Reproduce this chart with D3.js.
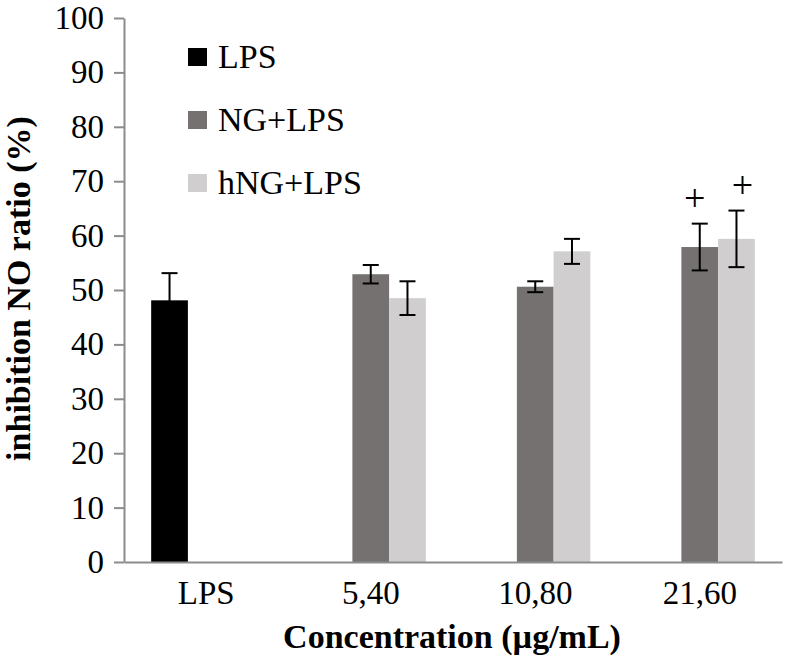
<!DOCTYPE html>
<html>
<head>
<meta charset="utf-8">
<script src="https://cdn.jsdelivr.net/npm/d3@7"></script>
<style>
  html, body { margin: 0; padding: 0; background: #fff; }
  svg { display: block; font-family: "Liberation Serif", "Times New Roman", serif; }
  svg text { font-family: "Liberation Serif", "Times New Roman", serif; }
</style>
</head>
<body>
<svg id="chart" width="786" height="671"></svg>
<script>
// ---- data ----
const categories = ["LPS", "5,40", "10,80", "21,60"];
const seriesNames = ["LPS", "NG+LPS", "hNG+LPS"];
const lpsValues = [48.1, null, null, null];
const lpsErrors = [5.0, null, null, null];
const ngValues = [null, 52.9, 50.6, 57.9];
const ngErrors = [null, 1.7, 1.0, 4.3];
const hngValues = [null, 48.5, 57.1, 59.4];
const hngErrors = [null, 3.1, 2.3, 5.2];
const significanceSeries = ["NG+LPS", "hNG+LPS"];
const significanceCategory = ["21,60", "21,60"];
const significanceMark = ["+", "+"];
const yTicks = [0, 10, 20, 30, 40, 50, 60, 70, 80, 90, 100];
const yTitle = "inhibition NO ratio (%)";
const xTitle = "Concentration (\u00b5g/mL)";

// ---- styles ----
const colors = { "LPS": "#000000", "NG+LPS": "#767171", "hNG+LPS": "#d0cece" };
const axisColor = "#8c8c8c";
const tickFont = 33;
const legendFont = 34;
const titleFont = 34;
const serif = "'Liberation Serif', 'Times New Roman', serif";

const svg = d3.select("#chart");
const plot = { left: 124, right: 782, top: 18, bottom: 562 };

const y = d3.scaleLinear().domain([0, 100]).range([plot.bottom, plot.top]);
const x0 = d3.scaleBand().domain(categories).range([plot.left, plot.right]).paddingInner(0).paddingOuter(0);
const x1 = d3.scaleBand().domain(seriesNames).range([0, x0.bandwidth()]).paddingInner(0).paddingOuter(0.74);

const seriesValues = { "LPS": lpsValues, "NG+LPS": ngValues, "hNG+LPS": hngValues };
const seriesErrors = { "LPS": lpsErrors, "NG+LPS": ngErrors, "hNG+LPS": hngErrors };

const records = [];
seriesNames.forEach(s => {
  categories.forEach((c, i) => {
    const v = seriesValues[s][i];
    if (v !== null) records.push({ series: s, category: c, value: v, err: seriesErrors[s][i] });
  });
});

// ---- y axis ----
const yAxis = d3.axisLeft(y).tickValues(yTicks).tickSize(10).tickSizeOuter(0).tickPadding(10);
const yg = svg.append("g").attr("transform", `translate(${plot.left},0)`).call(yAxis)
  .attr("font-family", serif).attr("font-size", tickFont);
yg.select(".domain").attr("stroke", axisColor).attr("stroke-width", 2);
yg.selectAll(".tick line").attr("stroke", axisColor).attr("stroke-width", 2);
yg.selectAll(".tick text").attr("fill", "#000");

// ---- bars ----
const bars = svg.append("g");
bars.selectAll("rect").data(records).join("rect")
  .attr("x", d => x0(d.category) + x1(d.series))
  .attr("y", d => y(d.value))
  .attr("width", x1.bandwidth())
  .attr("height", d => y(0) - y(d.value))
  .attr("fill", d => colors[d.series]);

// ---- x axis ----
const xAxis = d3.axisBottom(x0).tickSize(0).tickSizeOuter(0).tickPadding(19);
const xg = svg.append("g").attr("transform", `translate(0,${plot.bottom})`).call(xAxis)
  .attr("font-family", serif).attr("font-size", tickFont);
xg.select(".domain").attr("stroke", axisColor).attr("stroke-width", 2);
xg.selectAll(".tick text").attr("fill", "#000");

// ---- error bars ----
const capW = 16;
const eb = svg.append("g").attr("stroke", "#000").attr("stroke-width", 2);
records.forEach(d => {
  const cx = x0(d.category) + x1(d.series) + x1.bandwidth() / 2;
  const yt = y(d.value + d.err), yb = y(d.value - d.err);
  eb.append("line").attr("x1", cx).attr("x2", cx).attr("y1", yt).attr("y2", yb);
  eb.append("line").attr("x1", cx - capW / 2).attr("x2", cx + capW / 2).attr("y1", yt).attr("y2", yt);
  eb.append("line").attr("x1", cx - capW / 2).attr("x2", cx + capW / 2).attr("y1", yb).attr("y2", yb);
});

// ---- significance marks ----
significanceMark.forEach((m, i) => {
  const rec = records.find(r => r.series === significanceSeries[i] && r.category === significanceCategory[i]);
  const si = seriesNames.indexOf(rec.series);
  const cx = x0(rec.category) + x1(rec.series) + x1.bandwidth() / 2 + (si === 1 ? -5 : 6);
  const yt = y(rec.value + rec.err);
  svg.append("text").attr("x", cx).attr("y", yt - 13)
    .attr("text-anchor", "middle").attr("font-family", serif).attr("font-size", 38).attr("fill", "#000").text(m);
});

// ---- legend ----
const legend = svg.append("g").attr("transform", "translate(188,57)");
seriesNames.forEach((s, i) => {
  const g = legend.append("g").attr("transform", `translate(0,${i * 63})`);
  g.append("rect").attr("x", 0).attr("y", -9).attr("width", 19).attr("height", 18).attr("fill", colors[s]);
  g.append("text").attr("x", 30).attr("y", 11).attr("font-family", serif).attr("font-size", legendFont)
    .attr("fill", "#000").text(s);
});

// ---- titles ----
svg.append("text")
  .attr("transform", `translate(30,${(112 + 465) / 2}) rotate(-90)`)
  .attr("text-anchor", "middle").attr("font-family", serif).attr("font-size", titleFont)
  .attr("font-weight", "bold").attr("fill", "#000")
  .text(yTitle);
svg.append("text")
  .attr("x", 452).attr("y", 648)
  .attr("text-anchor", "middle").attr("font-family", serif).attr("font-size", titleFont)
  .attr("font-weight", "bold").attr("fill", "#000")
  .text(xTitle);
</script>
</body>
</html>
